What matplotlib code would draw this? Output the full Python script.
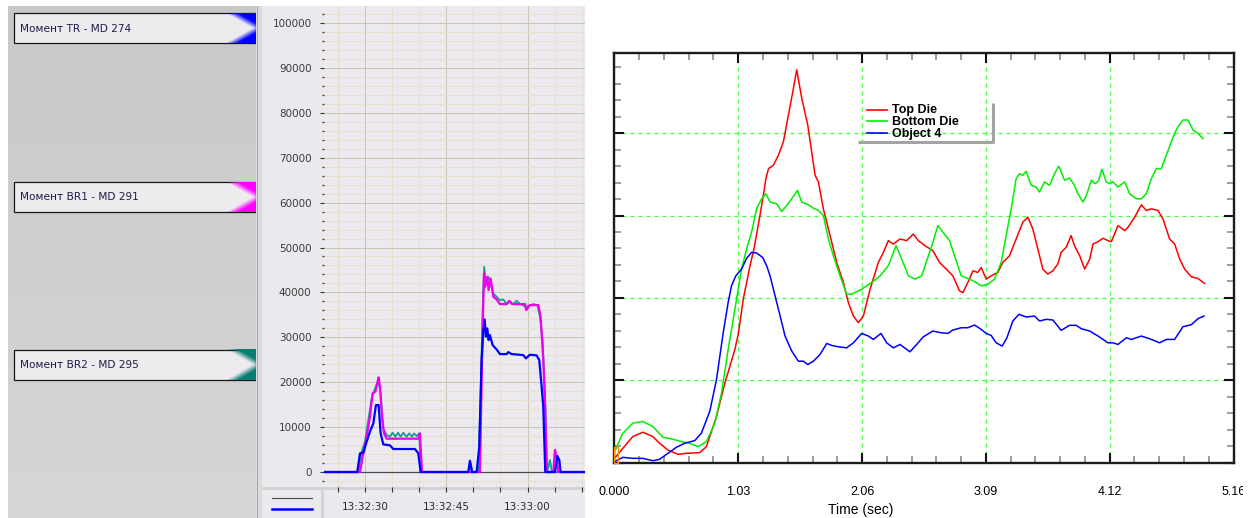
import numpy as np
import matplotlib
matplotlib.use("Agg")
import matplotlib.pyplot as plt
from matplotlib.colors import to_rgb
from matplotlib.patches import Rectangle
from matplotlib.ticker import MultipleLocator, FixedLocator
from matplotlib.transforms import Bbox, TransformedBbox

# ---------------- torque monitor (seconds after 13:32:30) ----------------
channel_names = ["Момент TR - MD 274", "Момент BR1 - MD 291", "Момент BR2 - MD 295"]
channel_colors = ["#0000FF", "#FF00FF", "#0B7D72"]

tr_t = [-7.6, -1.42, -0.92, -0.31, 0.31, 0.92, 1.54, 2.03, 2.52, 2.89, 3.38, 4.61, 5.23, 9.23,
        9.84, 10.27, 19.07, 19.37, 19.74, 20.6, 21.09, 21.52, 21.83, 22.08, 22.32, 22.57, 22.81,
        23.06, 23.55, 24.29, 24.9, 26.14, 26.45, 27.06, 29.21, 29.7, 30.44, 31.67, 32.16, 32.6,
        32.9, 33.27, 35.06, 35.49, 35.86, 36.1, 40.7]
tr_v = [0, 0, 4150, 4300, 6750, 8980, 10830, 14900, 14900, 8600, 6160, 5940, 5120, 5120,
        4150, 0, 0, 2520, 0, 0, 5640, 24930, 31240, 33980, 30130, 31980, 29380,
        30500, 28270, 27300, 26270, 26270, 26700, 26270, 26040, 25300, 26120, 25970, 24930, 19000,
        14540, 0, 0, 3560, 2670, 0, 0]

br1_t = [-7.6, -0.92, -0.31, 0.31, 0.92, 1.41, 1.91, 2.28, 2.52, 2.77, 3.14, 3.51, 4.0, 9.84,
         10.15, 10.52, 21.22, 21.59, 21.96, 22.2, 22.57, 22.81, 23.19, 23.68, 24.29, 24.9, 26.14,
         26.63, 27.12, 29.52, 29.76, 30.44, 32.0, 32.41, 32.9, 33.27, 33.52, 34.75, 35.06, 35.36,
         35.67, 40.7]
br1_v = [0, 0, 4150, 7870, 12320, 17510, 17880, 19740, 21070, 19000, 12320, 8610, 7420, 7420,
         8610, 0, 0, 24930, 44220, 41260, 43480, 40510, 43110, 39030, 38440, 37400, 37400,
         38140, 37400, 37400, 36060, 37180, 37180, 34580, 24930, 13800, 0, 0, 4900, 3410,
         0, 0]

br2_t = [-7.6, -1.23, -0.62, 0.0, 0.62, 1.23, 1.85, 2.46, 2.89, 3.38, 4.0, 4.61, 5.1, 5.6, 6.09,
         6.58, 7.07, 7.69, 8.18, 8.67, 9.04, 9.53, 10.02, 10.27, 19.07, 19.5, 19.86, 20.91, 21.34,
         21.71, 22.0, 22.32, 22.76, 23.19, 23.68, 24.29, 24.9, 25.52, 26.14, 26.75, 27.37, 27.98,
         28.6, 29.83, 31.06, 31.8, 32.29, 32.78, 33.21, 33.64, 34.13, 34.5, 40.7]
br2_v = [0, 0, 4530, 6750, 11580, 16400, 18620, 20480, 17510, 9720, 8240, 7870, 8760, 7870, 8760,
         7870, 8760, 7870, 8610, 7870, 8610, 8010, 8610, 0, 0, 1930, 0, 0, 17510,
         36060, 45700, 42000, 43480, 42000, 39770, 39030, 38290, 38440, 37400, 37920, 37400, 38140,
         37400, 36800, 37400, 37180, 34580, 29380, 17510, 0, 2670, 0, 0]

time_ticks = [0, 15, 30]
time_labels = ["13:32:30", "13:32:45", "13:33:00"]

# ---------------- die load history ----------------
series_names = ["Top Die", "Bottom Die", "Object 4"]
series_colors = ["#FF0000", "#00EE00", "#0000FF"]

top_t = [0.008, 0.070, 0.153, 0.237, 0.320, 0.376, 0.446, 0.529, 0.599, 0.711, 0.766, 0.850, 0.920,
         1.003, 1.031, 1.073, 1.101, 1.129, 1.162, 1.212, 1.240, 1.262, 1.283, 1.324, 1.366, 1.407,
         1.449, 1.491, 1.518, 1.560, 1.610, 1.671, 1.699, 1.740, 1.796, 1.851, 1.907, 1.948, 1.990,
         2.031, 2.073, 2.129, 2.198, 2.240, 2.281, 2.323, 2.378, 2.434, 2.489, 2.531, 2.586, 2.652,
         2.707, 2.763, 2.818, 2.874, 2.902, 2.943, 2.985, 3.026, 3.054, 3.096, 3.137, 3.193, 3.234,
         3.290, 3.345, 3.401, 3.443, 3.484, 3.526, 3.567, 3.609, 3.651, 3.692, 3.720, 3.762, 3.803,
         3.831, 3.874, 3.916, 3.958, 3.985, 4.027, 4.069, 4.110, 4.138, 4.193, 4.249, 4.277, 4.332,
         4.388, 4.429, 4.471, 4.526, 4.568, 4.623, 4.665, 4.707, 4.748, 4.804, 4.859, 4.915]
top_v = [0.065, 0.175, 0.317, 0.370, 0.317, 0.236, 0.154, 0.102, 0.114, 0.122, 0.195, 0.561, 0.967,
         1.374, 1.557, 1.984, 2.187, 2.390, 2.593, 3.000, 3.244, 3.450, 3.569, 3.610, 3.732, 3.894,
         4.220, 4.545, 4.768, 4.423, 4.098, 3.488, 3.407, 3.081, 2.756, 2.431, 2.187, 1.943, 1.780,
         1.699, 1.780, 2.106, 2.431, 2.553, 2.695, 2.654, 2.715, 2.695, 2.776, 2.695, 2.634, 2.573,
         2.431, 2.350, 2.268, 2.085, 2.065, 2.187, 2.329, 2.309, 2.370, 2.228, 2.268, 2.309, 2.431,
         2.512, 2.715, 2.919, 2.980, 2.837, 2.593, 2.350, 2.289, 2.329, 2.411, 2.553, 2.614, 2.756,
         2.634, 2.512, 2.350, 2.472, 2.654, 2.683, 2.724, 2.695, 2.683, 2.878, 2.817, 2.858, 2.980,
         3.130, 3.061, 3.081, 3.061, 2.959, 2.715, 2.654, 2.472, 2.350, 2.256, 2.236, 2.175]

bottom_t = [0.008, 0.070, 0.153, 0.237, 0.320, 0.404, 0.488, 0.557, 0.627, 0.697, 0.766, 0.836,
            0.892, 0.947, 1.003, 1.059, 1.101, 1.142, 1.184, 1.226, 1.262, 1.296, 1.352, 1.393,
            1.435, 1.477, 1.524, 1.560, 1.615, 1.657, 1.699, 1.740, 1.782, 1.823, 1.879, 1.934,
            1.976, 2.059, 2.142, 2.212, 2.281, 2.345, 2.392, 2.448, 2.503, 2.559, 2.596, 2.652,
            2.694, 2.735, 2.791, 2.832, 2.888, 2.957, 3.013, 3.054, 3.110, 3.165, 3.221, 3.262,
            3.304, 3.345, 3.373, 3.401, 3.429, 3.470, 3.512, 3.540, 3.581, 3.623, 3.664, 3.701,
            3.748, 3.789, 3.831, 3.860, 3.902, 3.930, 3.971, 4.005, 4.032, 4.060, 4.096, 4.124,
            4.152, 4.193, 4.249, 4.290, 4.346, 4.388, 4.429, 4.471, 4.512, 4.554, 4.596, 4.637,
            4.665, 4.693, 4.734, 4.776, 4.818, 4.859, 4.901]
bottom_v = [0.154, 0.358, 0.480, 0.500, 0.439, 0.309, 0.285, 0.256, 0.236, 0.195, 0.256, 0.480,
            0.846, 1.374, 1.862, 2.350, 2.593, 2.797, 3.081, 3.203, 3.264, 3.163, 3.142, 3.049,
            3.122, 3.203, 3.305, 3.163, 3.130, 3.089, 3.061, 3.000, 2.715, 2.512, 2.268, 2.045,
            2.045, 2.106, 2.187, 2.268, 2.390, 2.634, 2.472, 2.268, 2.228, 2.268, 2.431, 2.675,
            2.878, 2.797, 2.695, 2.512, 2.268, 2.228, 2.187, 2.146, 2.167, 2.228, 2.431, 2.756,
            3.081, 3.447, 3.508, 3.488, 3.537, 3.366, 3.346, 3.285, 3.407, 3.366, 3.508, 3.598,
            3.427, 3.455, 3.366, 3.264, 3.163, 3.244, 3.427, 3.386, 3.427, 3.561, 3.407, 3.386,
            3.407, 3.346, 3.407, 3.264, 3.203, 3.203, 3.264, 3.447, 3.569, 3.569, 3.732, 3.894,
            3.996, 4.077, 4.159, 4.159, 4.037, 3.996, 3.935]

obj_t = [0.000, 0.070, 0.153, 0.237, 0.320, 0.376, 0.446, 0.516, 0.585, 0.669, 0.724, 0.794, 0.850,
         0.906, 0.947, 0.975, 1.011, 1.059, 1.101, 1.142, 1.184, 1.234, 1.268, 1.296, 1.338, 1.380,
         1.421, 1.477, 1.532, 1.574, 1.610, 1.657, 1.712, 1.768, 1.810, 1.865, 1.934, 1.990, 2.059,
         2.115, 2.156, 2.220, 2.267, 2.323, 2.378, 2.461, 2.517, 2.572, 2.652, 2.721, 2.777, 2.818,
         2.888, 2.943, 2.999, 3.054, 3.096, 3.137, 3.179, 3.229, 3.268, 3.318, 3.368, 3.429, 3.498,
         3.540, 3.595, 3.651, 3.720, 3.789, 3.845, 3.888, 3.958, 4.027, 4.110, 4.152, 4.193, 4.263,
         4.304, 4.388, 4.457, 4.540, 4.596, 4.665, 4.734, 4.804, 4.859, 4.909]
obj_v = [0.012, 0.065, 0.053, 0.053, 0.024, 0.041, 0.114, 0.187, 0.236, 0.268, 0.358, 0.622, 1.008,
         1.577, 1.943, 2.146, 2.268, 2.350, 2.480, 2.553, 2.545, 2.492, 2.390, 2.268, 2.024, 1.780,
         1.537, 1.354, 1.232, 1.232, 1.191, 1.232, 1.313, 1.447, 1.423, 1.407, 1.394, 1.455, 1.569,
         1.537, 1.496, 1.569, 1.455, 1.394, 1.435, 1.346, 1.435, 1.528, 1.598, 1.577, 1.569, 1.610,
         1.638, 1.638, 1.671, 1.618, 1.569, 1.545, 1.455, 1.415, 1.516, 1.720, 1.801, 1.768, 1.780,
         1.720, 1.740, 1.732, 1.606, 1.667, 1.667, 1.626, 1.598, 1.537, 1.455, 1.455, 1.435, 1.516,
         1.496, 1.537, 1.504, 1.455, 1.496, 1.496, 1.650, 1.675, 1.748, 1.780]

step = 1.031
time_axis_ticks = [0.0, step, 2 * step, 3 * step, 4 * step, 5 * step]
time_axis_labels = ["0.000", "1.03", "2.06", "3.09", "4.12", "5.16"]

# ---------------- figure ----------------
W, H = 1258, 518
fig = plt.figure(figsize=(W / 100, H / 100), dpi=100)
fig.patch.set_facecolor("white")


def frac_box(x0, y0, x1, y1):
    """Pixel box (origin top-left) -> figure-fraction rectangle."""
    return [x0 / W, 1 - y1 / H, (x1 - x0) / W, (y1 - y0) / H]


def pixel_axes(z):
    a = fig.add_axes([0, 0, 1, 1], zorder=z)
    a.set_xlim(0, W)
    a.set_ylim(H, 0)
    a.axis("off")
    a.patch.set_visible(False)
    return a


bg = pixel_axes(0)

# grey channel panel with a soft vertical gradient
g = np.linspace(0.785, 0.84, 64)[:, None, None] * np.ones((64, 8, 3))
bg.imshow(g, extent=(8, 256, 518, 6), aspect="auto", interpolation="bilinear", zorder=0)


def bowtie(color, n=48):
    rgb = to_rgb(color)
    u = np.linspace(0, 1, n)[None, :]
    w = np.linspace(-1, 1, n)[:, None]
    a = np.clip((np.abs(w) + u - 1) * 2.2 + 0.25 * u, 0, 1)
    img = np.zeros((n, n, 4))
    img[..., :3] = rgb
    img[..., 3] = a
    return img


box_rows = [(13.3, 43.3), (181.7, 211.7), (349.5, 380.0)]
for name, col, (y0, y1) in zip(channel_names, channel_colors, box_rows):
    bg.add_patch(Rectangle((14, y0), 242, y1 - y0, facecolor="#EEEBEF",
                           edgecolor="#151515", lw=0.9, zorder=1))
    bg.imshow(bowtie(col), extent=(226, 256, y1, y0), aspect="auto",
              interpolation="bilinear", zorder=2)
    bg.text(20, (y0 + y1) / 2 + 0.5, name, fontsize=7.6, color="#1E1E48",
            family="DejaVu Sans", va="center", ha="left", zorder=3)

# separators and axis panels of the monitor
bg.add_patch(Rectangle((256, 6), 6, 512, facecolor="#DCDCDC", lw=0, zorder=1))
bg.plot([256.5, 256.5], [6, 518], color="#ABABAB", lw=0.8, zorder=2)
bg.add_patch(Rectangle((262, 6), 62, 481, facecolor="#ECE9EE", lw=0, zorder=1))
bg.add_patch(Rectangle((262, 487), 323, 3, facecolor="#D3D3D3", lw=0, zorder=1))
bg.add_patch(Rectangle((262, 490), 323, 28, facecolor="#ECE9EE", lw=0, zorder=1))
bg.add_patch(Rectangle((321, 487), 3, 31, facecolor="#D3D3D3", lw=0, zorder=2))
bg.plot([272, 312], [498.3, 498.3], color="#4A4A4A", lw=0.8, zorder=3)
bg.plot([272, 312], [509.3, 509.3], color="#0000FF", lw=1.8, zorder=3)

# ---------------- torque monitor plot ----------------
ax1 = fig.add_axes(frac_box(324, 6, 585, 487), zorder=2)
ax1.set_facecolor("#EDEAEF")
for s in ax1.spines.values():
    s.set_visible(False)
ax1.set_xlim(-7.56, 40.6)
ax1.set_ylim(-3340, 103790)
ax1.yaxis.set_major_locator(MultipleLocator(10000))
ax1.yaxis.set_minor_locator(MultipleLocator(2000))
ax1.xaxis.set_major_locator(FixedLocator(time_ticks))
ax1.set_xticklabels(time_labels)
ax1.xaxis.set_minor_locator(MultipleLocator(5))
ax1.set_axisbelow(True)
ax1.grid(True, which="major", color="#CAC6B8", lw=0.75)
ax1.grid(True, which="minor", color="#E5E1CE", lw=0.75)
ax1.tick_params(axis="y", which="major", length=3, width=0.8, color="#333333",
                labelsize=7.5, labelcolor="#3A3A3A", pad=6)
ax1.tick_params(axis="y", which="minor", length=1.2, width=0.9, color="#333333")
ax1.tick_params(axis="x", which="both", length=3.5, width=0.8, color="#333333",
                labelsize=7.5, labelcolor="#2A2A2A", pad=7)
for lab in ax1.get_xticklabels() + ax1.get_yticklabels():
    lab.set_family("DejaVu Sans")
ax1.axhline(0, color="#4A4A4A", lw=0.9, zorder=1)
ax1.plot(br2_t, br2_v, color="#149C8C", lw=1.3, zorder=2)
ax1.plot(br1_t, br1_v, color="#F000F0", lw=1.6, zorder=3)
ax1.plot(tr_t, tr_v, color="#0000FF", lw=1.6, zorder=4)

# ---------------- die load plot ----------------
ax2 = fig.add_axes(frac_box(614.4, 52.7, 1233.5, 462.7), zorder=2)
ax2.set_facecolor("white")
ax2.set_xlim(0, 5 * step)
ax2.set_ylim(0, 4.976)
ax2.xaxis.set_major_locator(FixedLocator(time_axis_ticks))
ax2.set_xticklabels(time_axis_labels)
ax2.xaxis.set_minor_locator(MultipleLocator(step / 5))
ax2.yaxis.set_major_locator(FixedLocator([0, 1, 2, 3, 4]))
ax2.yaxis.set_minor_locator(MultipleLocator(0.2))
ax2.grid(True, which="major", color="#3CFF3C", lw=0.9, ls=(0, (3.2, 3.2)))
ax2.set_axisbelow(True)
for s in ax2.spines.values():
    s.set_linewidth(1.7)
    s.set_color("#1C1C1C")
ax2.tick_params(which="major", direction="in", length=7.5, width=1.5, color="#111111",
                top=True, right=True, labelleft=False, labelsize=9, pad=17)
ax2.tick_params(which="minor", direction="in", length=5, width=1.2, color="#8C8C8C",
                top=True, right=True)
for lab in ax2.get_xticklabels():
    lab.set_family("Liberation Sans")

ax2.plot(top_t, top_v, color=series_colors[0], lw=1.1, zorder=3)
ax2.plot(bottom_t, bottom_v, color=series_colors[1], lw=1.1, zorder=3)
ax2.plot(obj_t, obj_v, color=series_colors[2], lw=1.1, zorder=3)
ax2.add_patch(Rectangle((0.0, 0.0), 0.03, 0.19, fill=False, edgecolor="#FF8C00",
                        lw=1.0, zorder=4, clip_on=False))

# ---------------- overlay: legend, axis title ----------------
top = pixel_axes(5)
leg_y = [109.5, 121.0, 132.5]
for name, col, y in zip(series_names, series_colors, leg_y):
    top.plot([867, 887], [y, y], color=col, lw=1.2)
    top.text(892, y + 1.0, name, fontsize=9, fontweight="bold", family="Liberation Sans",
             color="black", va="center", ha="left")
top.plot([993, 993], [103, 142], color="#A3A3A3", lw=2.2, solid_capstyle="butt")
top.plot([858, 994], [141.5, 141.5], color="#A3A3A3", lw=2.2, solid_capstyle="butt")
top.text(861, 510, "Time (sec)", fontsize=10, family="Liberation Sans",
         color="black", ha="center", va="center")

# next time label, cut by the monitor window edge
t_next = top.text(609, 508.5, "13:33:15", fontsize=7.5, family="DejaVu Sans",
                  color="#2A2A2A", ha="center", va="center")
t_next.set_clip_box(TransformedBbox(Bbox([[262, 0], [585, 518]]), top.transData))
t_next.set_clip_on(True)

# the screenshot of the plot ends before the last label finishes
top.add_patch(Rectangle((1243, 478), 15, 30, facecolor="white", lw=0))

fig.savefig("out.png", dpi=100, facecolor="white")
